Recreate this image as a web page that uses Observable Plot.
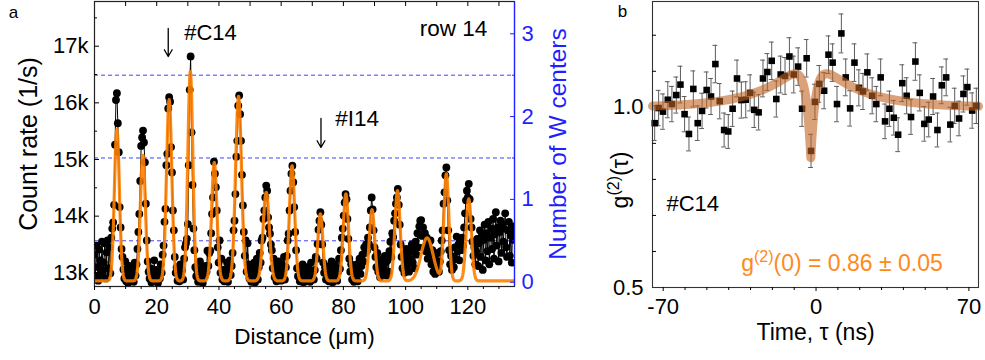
<!DOCTYPE html>
<html>
<head>
<meta charset="utf-8">
<script src="https://cdn.jsdelivr.net/npm/d3@7"></script>
<script src="https://cdn.jsdelivr.net/npm/@observablehq/plot@0.6"></script>
<style>
  body { margin: 0; background: #fff; }
  #fig { position: relative; width: 985px; height: 360px; overflow: hidden; background: #fff; }
  #fig svg { position: absolute; top: 0; }
</style>
</head>
<body>
<div id="fig"></div>
<script>
// ---------- (a) line scan along row 14 ----------
// count rate in k counts/s, sampled every 0.3 µm starting at 0 µm
const scanStart = 0;
const scanStep = 0.3;
const countRate = [
  13.32, 12.95, 13.48, 13.10, 12.86, 13.41, 13.22, 12.97, 13.55, 13.05,
  13.18, 13.52, 12.90, 13.36, 13.57, 13.08, 13.45, 12.99, 13.62, 13.78,
  13.89, 14.20, 15.26, 16.05, 16.17, 15.64, 15.13, 14.16, 13.80, 13.42,
  13.28, 13.06, 12.90, 13.20, 12.85, 13.02, 12.82, 13.12, 12.92, 12.98,
  12.86, 13.08, 12.84, 13.18, 12.95, 13.15, 13.42, 13.72, 14.04, 14.62,
  15.24, 15.39, 15.51, 15.30, 14.95, 14.22, 13.57, 13.20, 13.02, 12.90,
  13.08, 12.83, 12.98, 12.88, 13.22, 12.85, 13.05, 12.92, 12.82, 13.02,
  12.90, 13.15, 13.00, 13.32, 13.48, 13.90, 14.13, 14.90, 15.10, 15.90,
  16.10, 16.02, 15.22, 14.77, 14.10, 13.75, 13.28, 13.00, 13.10, 12.86,
  13.02, 12.85, 13.15, 12.92, 13.05, 12.88, 13.25, 13.45, 13.52, 13.60,
  13.86, 14.90, 16.23, 16.82, 15.48, 14.55, 13.78, 13.40, 13.10, 12.94,
  13.05, 12.84, 12.96, 13.20, 12.88, 13.02, 12.82, 13.10, 12.94, 13.12,
  13.02, 13.39, 13.12, 13.35, 13.39, 13.70, 14.04, 14.33, 14.96, 14.75,
  14.51, 14.10, 13.45, 13.18, 13.57, 13.00, 13.25, 12.88, 13.05, 12.85,
  13.06, 12.92, 13.18, 12.84, 13.02, 13.22, 12.96, 13.12, 13.35, 13.75,
  13.92, 14.39, 15.05, 15.33, 15.95, 16.13, 15.80, 15.33, 14.73, 14.19,
  13.72, 13.30, 13.57, 13.02, 13.52, 13.15, 12.90, 13.05, 12.84, 13.08,
  12.92, 13.18, 12.83, 12.98, 13.25, 12.88, 13.10, 13.35, 13.18, 13.57,
  13.62, 13.95, 14.10, 14.33, 14.54, 14.45, 13.98, 13.80, 13.69, 13.50,
  13.40, 13.08, 13.25, 12.92, 13.12, 12.85, 13.02, 13.20, 12.90, 13.05,
  12.86, 13.15, 12.98, 13.28, 12.88, 13.10, 13.30, 13.57, 13.69, 14.10,
  14.45, 14.75, 14.89, 14.60, 14.16, 13.72, 13.40, 13.08, 12.94, 13.10,
  12.85, 13.02, 12.90, 13.15, 12.83, 12.98, 12.88, 13.10, 13.01, 12.86,
  13.06, 12.84, 13.18, 12.92, 13.02, 12.88, 13.05, 13.28, 13.25, 13.51,
  13.76, 13.92, 14.07, 13.85, 13.50, 13.18, 13.00, 13.10, 12.88, 13.02,
  13.07, 12.85, 13.12, 12.93, 13.20, 12.83, 13.00, 13.15, 12.90, 13.06,
  12.86, 13.02, 13.25, 13.07, 13.40, 13.62, 13.78, 14.01, 14.24, 14.39,
  14.30, 13.95, 13.60, 13.25, 13.02, 13.15, 12.88, 13.06, 12.84, 13.00,
  12.92, 13.15, 12.85, 13.05, 13.25, 12.98, 13.12, 13.32, 13.20, 13.45,
  13.35, 13.50, 13.39, 13.62, 13.51, 13.80, 14.10, 14.33, 14.12, 13.75,
  13.45, 13.28, 13.10, 13.35, 13.02, 13.22, 12.92, 13.12, 12.98, 13.25,
  13.06, 13.30, 13.18, 12.95, 13.22, 13.02, 13.38, 13.55, 13.28, 13.70,
  13.63, 13.92, 14.05, 14.22, 14.33, 14.48, 14.20, 13.85, 13.50, 13.28,
  13.08, 13.32, 13.00, 13.18, 13.42, 13.12, 13.28, 13.02, 13.38, 13.22,
  13.50, 13.18, 13.40, 13.08, 13.55, 13.32, 13.70, 13.45, 13.82, 13.92,
  13.93, 13.65, 13.80, 13.45, 13.70, 13.38, 13.62, 13.25, 13.52, 13.30,
  13.57, 13.15, 13.40, 13.02, 13.28, 12.98, 13.20, 13.08, 13.35, 13.02,
  13.20, 13.38, 13.57, 13.75, 14.22, 14.42, 14.72, 14.86, 14.28, 13.75,
  13.40, 13.15, 13.30, 13.05, 13.22, 13.10, 13.45, 13.25, 13.64, 13.38,
  13.50, 13.22, 13.55, 13.40, 13.62, 13.48, 13.80, 14.05, 14.28, 14.45,
  14.33, 14.57, 14.30, 13.95, 13.80, 13.55, 13.30, 13.45, 13.15, 13.38,
  13.60, 13.12, 13.52, 13.75, 13.28, 13.66, 13.05, 13.58, 13.85, 13.22,
  13.70, 13.38, 13.90, 13.15, 13.62, 13.78, 13.42, 13.95, 13.25, 13.68,
  14.07, 13.48, 13.80, 13.20, 13.72, 13.92, 13.35, 13.85, 13.55, 13.78,
  14.05, 13.45, 13.28, 13.75, 13.90, 13.30, 13.66, 13.18, 13.82, 13.58,
  13.70
];

// Gaussian fit of the emitters, in numbers of W centers
const peakCenter = [7.2, 15.55, 24.0, 30.8, 38.5, 46.3, 55.2, 63.5, 72.6, 80.8, 89.2, 97.4, 106.9, 113.1, 120.3];
const peakHeight = [1.83, 1.52, 2.19, 2.53, 1.43, 2.23, 1.07, 1.39, 0.81, 1.05, 0.86, 1.09, 0.52, 1.29, 0.99];
const peakWidth  = [0.8, 0.8, 0.85, 0.8, 0.85, 0.95, 1.0, 0.85, 0.8, 0.85, 0.85, 0.85, 1.95, 0.8, 0.85];
const fitBaseline = 0.015;

// count rate (k/s) that corresponds to zero W centers, and to one more center
const countAtZero = 12.834;
const countPerCenter = 1.4617;

const countTicks = [13, 14, 15, 16, 17];
const countMinor = [13.5, 14.5, 15.5, 16.5, 17.5];
const centerTicks = [0, 1, 2, 3];
const centerGuides = [0.5, 1.5, 2.5];
const distanceTicks = [0, 20, 40, 60, 80, 100, 120];
const distanceMinor = [5, 10, 15, 25, 30, 35, 45, 50, 55, 65, 70, 75, 85, 90, 95, 105, 110, 115, 125, 130];
const distanceTop = [10, 20, 30, 40, 50, 60, 70, 80, 90, 100, 110, 120, 130];

// ---------- (b) second-order correlation of #C14 ----------
const tau = [-73.9, -72.1, -70.1, -67.9, -66.0, -64.0, -62.1, -60.2, -58.2, -56.2,
  -54.2, -52.2, -50.1, -48.1, -46.1, -44.1, -42.1, -40.2, -38.2, -36.2,
  -34.2, -32.2, -30.2, -28.3, -26.3, -24.3, -22.3, -20.3, -18.2, -16.2,
  -14.2, -12.2, -10.2, -8.2, -6.4, -4.3, -2.3,
  -0.5, 1.5, 3.7, 5.7, 7.6, 9.6, 11.6, 13.6, 15.6, 17.6,
  19.6, 21.5, 23.5, 25.7, 27.6, 29.6, 31.6, 33.6, 35.6, 37.6,
  39.5, 41.5, 43.5, 45.5, 47.5, 49.6, 51.6, 53.6, 55.6, 57.6,
  59.6, 61.5, 63.5, 65.5, 67.5, 69.3, 71.5, 73.4];
const g2 = [0.956, 0.998, 0.988, 1.021, 1.009, 1.034, 1.063, 0.981, 0.926, 1.051,
  0.956, 0.990, 1.048, 1.030, 1.120, 1.017, 0.937, 0.933, 0.996, 1.080,
  1.020, 1.021, 1.040, 0.993, 0.986, 1.080, 1.098, 1.129, 1.023, 1.091,
  1.087, 1.141, 1.091, 1.113, 0.996, 1.136, 0.879,
  1.015, 1.065, 1.046, 1.146, 1.124, 1.009, 1.205, 1.083, 0.997, 1.124,
  1.054, 1.044, 1.097, 1.032, 1.009, 1.083, 0.961, 0.996, 0.971, 0.924,
  1.067, 1.032, 0.973, 1.127, 1.040, 0.954, 0.966, 1.030, 0.937, 1.061,
  1.083, 0.952, 1.004, 0.969, 1.037, 1.056, 0.991, 1.004];
const g2Err = [0.048, 0.049, 0.049, 0.050, 0.049, 0.050, 0.051, 0.049, 0.047, 0.050,
  0.048, 0.049, 0.050, 0.050, 0.052, 0.049, 0.047, 0.047, 0.049, 0.051,
  0.050, 0.050, 0.050, 0.049, 0.049, 0.051, 0.051, 0.052, 0.050, 0.051,
  0.051, 0.052, 0.051, 0.052, 0.049, 0.052, 0.046,
  0.049, 0.051, 0.050, 0.052, 0.052, 0.049, 0.054, 0.051, 0.049, 0.052,
  0.050, 0.050, 0.051, 0.050, 0.049, 0.051, 0.048, 0.049, 0.048, 0.047,
  0.051, 0.050, 0.048, 0.052, 0.050, 0.048, 0.048, 0.050, 0.047, 0.051,
  0.051, 0.048, 0.049, 0.048, 0.050, 0.050, 0.049, 0.049];

// fit: g2(t) = 1 - a*exp(-|t - t0|/t1) + b*exp(-|t - t0|/t2), with g2(t0) = g2Zero
const g2Zero = 0.86;
const g2ZeroErr = 0.05;
const fitT0 = -2.4;
const fitBunch = 0.155;
const fitAnti = 1 + fitBunch - g2Zero;
const fitTau1 = 2.3;
const fitTau2 = 19;

const timeTicks = [-70, 0, 70];
const timeMinor = [-60, -50, -40, -30, -20, -10, 10, 20, 30, 40, 50, 60];
const g2Ticks = [0.5, 1.0];
const g2Minor = [0.6, 0.7, 0.8, 0.9, 1.1, 1.2];

// ---------- styling ----------
const font = "Liberation Sans, Arial, Helvetica, sans-serif";
const blue = "#1f1fff";
const orange = "#ff7f00";
const fitBrown = "#c06422";
const orangeText = "#ff8a1c";

const toCount = (n) => countAtZero + countPerCenter * n;
const toCenters = (k) => (k - countAtZero) / countPerCenter;

const scan = countRate.map((c, i) => ({x: scanStart + i * scanStep, c}));
const fitA = d3.range(0, 135.05, 0.1).map((x) => {
  let n = fitBaseline;
  peakCenter.forEach((c, j) => {
    n += peakHeight[j] * Math.exp(-((x - c) ** 2) / (2 * peakWidth[j] ** 2));
  });
  return {x, c: toCount(n)};
});

const plotA = Plot.plot({
  width: 580,
  height: 360,
  marginLeft: 94,
  marginRight: 66,
  marginTop: 1,
  marginBottom: 74,
  style: {fontFamily: font, fontSize: "22px", color: "#000", background: "transparent", overflow: "visible"},
  x: {domain: [0, 135]},
  y: {domain: [12.758, 17.789]},
  marks: [
    Plot.ruleY(centerGuides.map(toCount), {stroke: blue, strokeDasharray: "4,3", strokeWidth: 1, strokeOpacity: 0.85}),
    Plot.line(scan, {x: "x", y: "c", stroke: "#000", strokeWidth: 1, clip: true}),
    Plot.dot(scan, {x: "x", y: "c", r: 3.9, fill: "#000", clip: true}),
    Plot.line(fitA, {x: "x", y: "c", stroke: orange, strokeWidth: 3.2, strokeOpacity: 0.9, clip: true}),
    Plot.frame({stroke: "#222", strokeWidth: 1.2}),
    Plot.ruleX([135], {stroke: blue, strokeWidth: 1.2}),

    Plot.axisX(distanceTicks, {anchor: "bottom", tickSize: 4, tickPadding: 7.5, fontSize: 22, label: null}),
    Plot.axisX(distanceMinor, {anchor: "bottom", tickSize: 3, fill: "none", label: null}),
    Plot.axisX(distanceTop, {anchor: "top", tickSize: -4, fill: "none", label: null}),
    Plot.axisY(countTicks, {anchor: "left", tickSize: 0, tickPadding: 6, tickFormat: (d) => `${d}k`, fontSize: 22, label: null}),
    Plot.axisY(countTicks, {anchor: "left", tickSize: -5, fill: "none", label: null}),
    Plot.axisY(countMinor, {anchor: "left", tickSize: -3, fill: "none", label: null}),
    Plot.axisY(centerTicks.map(toCount), {anchor: "right", tickSize: 0, tickPadding: 7, color: blue, fontSize: 22,
      tickFormat: (k) => String(Math.round(toCenters(k))), label: null}),
    Plot.axisY(centerTicks.map(toCount), {anchor: "right", tickSize: -5, fill: "none", stroke: blue, label: null}),
    Plot.axisY(centerGuides.map(toCount), {anchor: "right", tickSize: -3, fill: "none", stroke: blue, label: null}),

    Plot.text(["Count rate (1/s)"], {frameAnchor: "left", dx: -66, rotate: -90, textAnchor: "middle", lineAnchor: "middle", fontSize: 25}),
    Plot.text(["Number of W centers"], {frameAnchor: "right", dx: 44, rotate: -90, textAnchor: "middle", lineAnchor: "middle", fontSize: 24.5, fill: blue}),
    Plot.text(["Distance (μm)"], {frameAnchor: "bottom", dy: 50, textAnchor: "middle", lineAnchor: "middle", fontSize: 22.5}),
    Plot.text(["a"], {frameAnchor: "top-left", dx: -81, dy: 11.5, textAnchor: "middle", lineAnchor: "middle", fontSize: 17}),

    Plot.text([{x: 28.84, y: 17.242, s: "#C14"}], {x: "x", y: "y", text: "s", textAnchor: "start", lineAnchor: "middle", fontSize: 22}),
    Plot.text([{x: 126.27, y: 17.30, s: "row 14"}], {x: "x", y: "y", text: "s", textAnchor: "end", lineAnchor: "middle", fontSize: 22.5}),
    Plot.text([{x: 77.4, y: 15.724, s: "#I14"}], {x: "x", y: "y", text: "s", textAnchor: "start", lineAnchor: "middle", fontSize: 22.5}),
    Plot.arrow([{x: 23.7, y1: 17.312, y2: 16.818}, {x: 72.8, y1: 15.724, y2: 15.212}],
      {x1: "x", x2: "x", y1: "y1", y2: "y2", stroke: "#000", strokeWidth: 1.3, headLength: 9})
  ]
});

// ---------- panel (b) ----------
const pts = tau.map((t, i) => ({t, g: g2[i], e: g2Err[i]}));
const fitB = d3.range(-74.9, 74.45, 0.1).map((t) => {
  const d = Math.abs(t - fitT0);
  return {t, g: 1 - fitAnti * Math.exp(-d / fitTau1) + fitBunch * Math.exp(-d / fitTau2)};
});

const plotB = Plot.plot({
  width: 405,
  height: 360,
  marginLeft: 72,
  marginRight: 7,
  marginTop: 1,
  marginBottom: 73,
  style: {fontFamily: font, fontSize: "22px", color: "#000", background: "transparent", overflow: "visible"},
  x: {domain: [-74.9, 74.4]},
  y: {domain: [0.5, 1.2936]},
  marks: [
    Plot.ruleX(pts, {x: "t", y1: (d) => d.g - d.e, y2: (d) => d.g + d.e, stroke: "#5c5c5c", strokeWidth: 1}),
    Plot.ruleY(pts, {y: (d) => d.g + d.e, x1: (d) => d.t - 1.1, x2: (d) => d.t + 1.1, stroke: "#5c5c5c", strokeWidth: 1}),
    Plot.ruleY(pts, {y: (d) => d.g - d.e, x1: (d) => d.t - 1.1, x2: (d) => d.t + 1.1, stroke: "#5c5c5c", strokeWidth: 1}),
    Plot.dot(pts, {x: "t", y: "g", symbol: "square", r: 3.7, fill: "#000"}),
    Plot.line(fitB, {x: "t", y: "g", stroke: fitBrown, strokeOpacity: 0.6, strokeWidth: 9, strokeLinecap: "round", strokeLinejoin: "round"}),
    Plot.frame({stroke: "#333", strokeWidth: 1.1}),

    Plot.axisX(timeTicks, {anchor: "bottom", tickSize: 4, tickPadding: 7, fontSize: 22, tickFormat: (d) => `${d}`, label: null}),
    Plot.axisX(timeMinor, {anchor: "bottom", tickSize: 3, fill: "none", label: null}),
    Plot.axisY(g2Ticks, {anchor: "left", tickSize: 0, tickPadding: 9, tickFormat: d3.format(".1f"), fontSize: 22, label: null}),
    Plot.axisY(g2Minor, {anchor: "left", tickSize: -4, fill: "none", label: null}),

    Plot.text(["Time, τ (ns)"], {frameAnchor: "bottom", dy: 45, textAnchor: "middle", lineAnchor: "middle", fontSize: 23}),
    Plot.text(["b"], {frameAnchor: "top-left", dx: -30, dy: 9.9, textAnchor: "middle", lineAnchor: "middle", fontSize: 17}),
    Plot.text([{x: -68.5, y: 0.7306, s: "#C14"}], {x: "x", y: "y", text: "s", textAnchor: "start", lineAnchor: "middle", fontSize: 22})
  ]
});

// y label and the g2(0) annotation need superscripts, so they are written as tspans
const svgB = d3.select(plotB);
const yLabel = svgB.append("text")
  .attr("transform", "translate(48,180) rotate(-90)")
  .attr("text-anchor", "middle")
  .attr("font-family", font)
  .attr("font-size", 23)
  .attr("fill", "#000");
yLabel.append("tspan").text("g");
yLabel.append("tspan").attr("font-size", 16).attr("dy", -9).text("(2)");
yLabel.append("tspan").attr("dy", 9).text("(τ)");

const zeroLabel = svgB.append("text")
  .attr("x", 262)
  .attr("y", 271)
  .attr("text-anchor", "middle")
  .attr("font-family", font)
  .attr("font-size", 23)
  .attr("fill", orangeText);
zeroLabel.append("tspan").text("g");
zeroLabel.append("tspan").attr("font-size", 16).attr("dy", -9).text("(2)");
zeroLabel.append("tspan").attr("dy", 9).text(`(0) = ${g2Zero.toFixed(2)} ± ${g2ZeroErr.toFixed(2)}`);

const fig = document.getElementById("fig");
plotA.style.left = "0px";
plotB.style.left = "580px";
fig.append(plotA, plotB);
</script>
</body>
</html>
